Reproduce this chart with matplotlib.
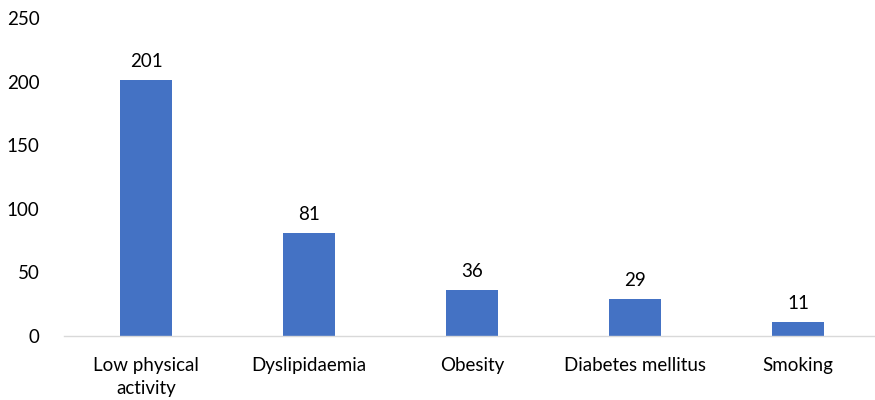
import matplotlib.pyplot as plt
import numpy as np

categories = ['Low physical\nactivity', 'Dyslipidaemia', 'Obesity', 'Diabetes mellitus', 'Smoking']
counts = [201, 81, 36, 29, 11]
y_ticks = [0, 50, 100, 150, 200, 250]

plt.rcParams['font.family'] = ['Lato', 'DejaVu Sans']

fig = plt.figure(figsize=(8.75, 4), dpi=100)
ax = fig.add_axes([0.0737, 0.16, 0.9314, 0.795])

x = np.arange(len(categories))
bars = ax.bar(x, counts, width=0.315, color='#4472C4')

for b, v in zip(bars, counts):
    ax.text(b.get_x() + b.get_width() / 2, v + 8, str(v),
            ha='center', va='bottom', fontsize=13.5, color='#000000')

ax.set_xlim(-0.5, len(categories) - 0.5)
ax.set_ylim(0, 250)
ax.set_yticks(y_ticks)
ax.set_xticks(x)
ax.set_xticklabels(categories, fontsize=13.5, linespacing=1.45)
ax.tick_params(axis='y', labelsize=13.5, length=0, pad=18)
ax.tick_params(axis='x', length=0, pad=15)

for s in ['top', 'right', 'left']:
    ax.spines[s].set_visible(False)
ax.spines['bottom'].set_color('#D9D9D9')
ax.spines['bottom'].set_linewidth(1)

fig.savefig('out.png', dpi=100)
